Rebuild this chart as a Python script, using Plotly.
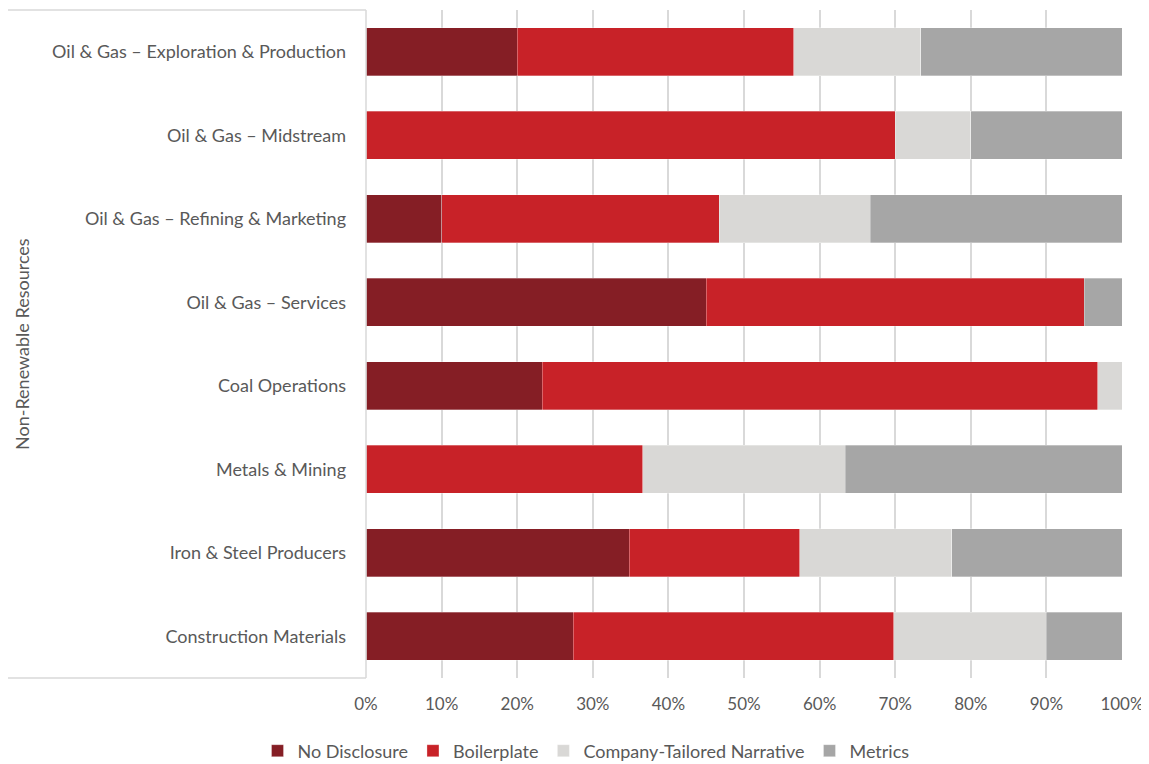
import plotly.graph_objects as go

categories = [
    "Oil & Gas – Exploration & Production",
    "Oil & Gas – Midstream",
    "Oil & Gas – Refining & Marketing",
    "Oil & Gas – Services",
    "Coal Operations",
    "Metals & Mining",
    "Iron & Steel Producers",
    "Construction Materials",
]
no_disclosure = [20.0, 0.0, 10.0, 45.0, 23.3, 0.0, 34.8, 27.4]
boilerplate = [36.6, 70.0, 36.7, 50.0, 73.5, 36.6, 22.6, 42.4]
tailored = [16.8, 10.0, 20.0, 0.0, 3.2, 26.8, 20.1, 20.2]
metrics = [26.6, 20.0, 33.3, 5.0, 0.0, 36.6, 22.5, 10.0]
x_ticks = [0, 10, 20, 30, 40, 50, 60, 70, 80, 90, 100]
x_tick_labels = ["0%", "10%", "20%", "30%", "40%", "50%", "60%", "70%", "80%", "90%", "100%"]
group_title = "Non-Renewable Resources"

series = [
    ("No Disclosure", no_disclosure, "#851E25"),
    ("Boilerplate", boilerplate, "#C82228"),
    ("Company-Tailored Narrative", tailored, "#D9D8D6"),
    ("Metrics", metrics, "#A6A6A6"),
]

FONT = "Lato"
TXT = "#595959"
FS = 18

fig = go.Figure()
for name, vals, col in series:
    fig.add_trace(go.Bar(
        y=categories, x=vals, name=name, orientation="h",
        marker=dict(color=col, line=dict(color="rgba(255,255,255,0.6)", width=0.5)),
        hoverinfo="x+y+name",
    ))

# page has an 8px body margin; compensate so the plot sits where the reference has it
OFF = 8
W, H = 1149 - OFF, 764 - OFF
L, T = 366 - OFF, 10 - OFF
pw, ph = 756, 668
R = W - L - pw
B = H - T - ph

fig.update_layout(
    width=W, height=H,
    margin=dict(l=L, r=R, t=T, b=B, autoexpand=False),
    barmode="stack",
    bargap=0.42,
    plot_bgcolor="white", paper_bgcolor="white",
    font=dict(family=FONT, size=FS, color=TXT),
    xaxis=dict(
        range=[0, 100], tickvals=x_ticks, ticktext=x_tick_labels,
        showgrid=True, gridcolor="#D9D9D9", gridwidth=1.5,
        zeroline=False, showline=False, ticks="",
        tickfont=dict(family=FONT, size=17, color=TXT),
        ticklabelstandoff=14, fixedrange=True, automargin=False,
    ),
    yaxis=dict(
        categoryorder="array", categoryarray=categories,
        autorange="reversed",
        showgrid=False, zeroline=False, showline=False, ticks="",
        tickfont=dict(family=FONT, size=FS, color=TXT),
        ticklabelstandoff=19, automargin=False,
    ),
    legend=dict(
        orientation="h", x=(586 - OFF) / W, xanchor="center",
        xref="container", y=1 - (751 - OFF) / H, yref="container", yanchor="middle",
        font=dict(family=FONT, size=FS, color=TXT),
        traceorder="normal", itemwidth=30,
    ),
    showlegend=True,
)

# Category area box lines (paper coords)
x_left = -L / pw
line_style = dict(color="#D9D9D9", width=1.5)
fig.add_shape(type="line", xref="paper", yref="paper", x0=x_left, x1=0, y0=1, y1=1, line=line_style)
fig.add_shape(type="line", xref="paper", yref="paper", x0=x_left, x1=0, y0=0, y1=0, line=line_style)
fig.add_shape(type="line", xref="paper", yref="paper", x0=0, x1=0, y0=0, y1=1, line=line_style)

fig.add_annotation(
    text=group_title, xref="paper", yref="paper",
    x=(22 - OFF - L) / pw, y=0.5, textangle=-90, showarrow=False,
    font=dict(family=FONT, size=FS, color=TXT),
    xanchor="center", yanchor="middle",
)

fig.write_html("out.html")
